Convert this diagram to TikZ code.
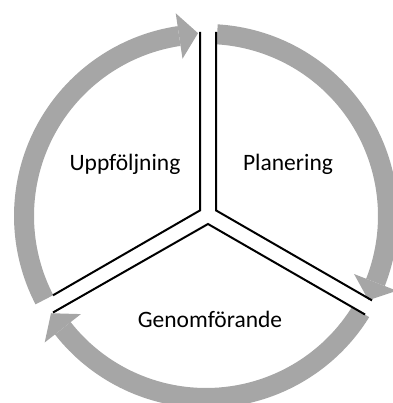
\documentclass[tikz,border=0pt]{standalone}
\usepackage{fontspec}
\setmainfont{Carlito}
\usetikzlibrary{calc}
\definecolor{ringgray}{RGB}{166,166,166}
\newcommand\ringarrow[3]{%
  \fill[ringgray] ($(Cr)+(#1:192pt)$) arc[start angle=#1, end angle=#2, radius=192pt]
    -- ($(Cr)+(#2:172pt)$) arc[start angle=#2, end angle=#1, radius=172pt] -- cycle;
  \fill[ringgray] ($(Cr)+(#2:205pt)$) -- ($(Cr)+(#3:183pt)$) -- ($(Cr)+(#2:159pt)$) -- cycle;}
\begin{document}
\begin{tikzpicture}[x=1pt,y=1pt,
  yline/.style={line width=2pt, line join=miter},
  lbl/.style={anchor=base, inner sep=0pt, font=\fontsize{23.5}{28}\selectfont}]
\useasboundingbox (0,0) rectangle (392,403);
\coordinate (Cr) at (206,187);
% ring arrows
\ringarrow{86.5}{-21.4}{-27.4}
\ringarrow{-31.8}{-141.9}{-147.9}
\ringarrow{-152.6}{-261.5}{-267.5}
% Y-shaped double lines
\coordinate (t1) at (200,371);
\coordinate (j1) at (200,192.6);
\coordinate (e1) at (53,107.7);
\coordinate (t2) at (216,371);
\coordinate (j2) at (216,192.6);
\coordinate (e2) at (372,102.6);
\coordinate (e3) at (53,90.5);
\coordinate (j3) at (208,179);
\coordinate (e4) at (365,88.5);
\draw[yline] (t1) -- (j1) -- (e1);
\draw[yline] (t2) -- (j2) -- (e2);
\draw[yline] (e3) -- (j3) -- (e4);
% labels
\node[lbl] (upp) at (125,232) {Uppföljning};
\node[lbl] (plan) at (288,232) {Planering};
\node[lbl] (gen) at (210,75) {Genomförande};
\end{tikzpicture}
\end{document}
